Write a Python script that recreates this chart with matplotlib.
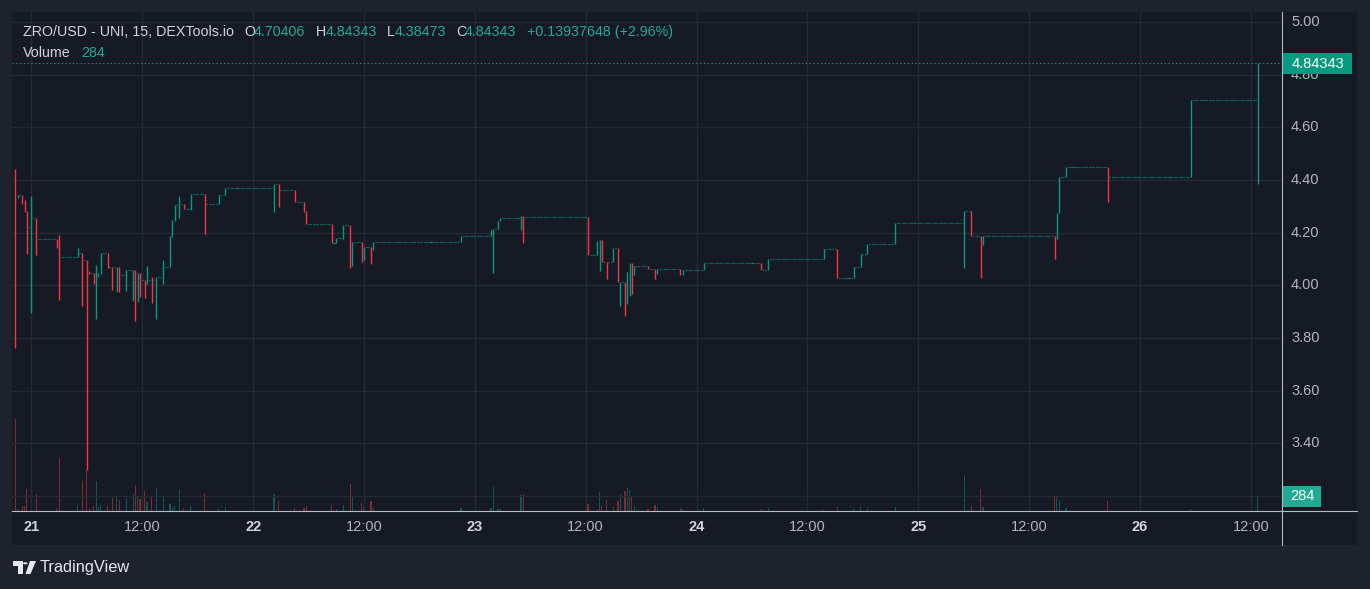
import matplotlib
matplotlib.use("Agg")
import matplotlib.pyplot as plt
from matplotlib.patches import Rectangle, Polygon, Circle
from matplotlib.lines import Line2D
from matplotlib.transforms import blended_transform_factory
import numpy as np

plt.rcParams['font.family'] = ['Liberation Sans', 'DejaVu Sans']

# ---------------- data (15-minute candles, ZRO/USD) ----------------
N_CANDLES = 539
FIRST_CANDLE_HOUR = -1.75      # hours relative to day 21 00:00
BAR_HOURS = 0.25

trade_idx = [0, 1, 3, 4, 5, 7, 9, 18, 19, 27, 29, 31, 32, 34, 35, 36, 37, 40, 42, 44,
             45, 48, 51, 52, 53, 54, 56, 57, 59, 61, 64, 67, 68, 69, 71, 73, 76, 82, 88, 91,
             112, 114, 121, 125, 126, 137, 139, 142, 145, 146, 150, 151, 154, 155, 193, 206, 207, 209, 210, 219,
             220, 248, 252, 253, 254, 256, 259, 261, 262, 264, 265, 266, 267, 268, 274, 277, 278, 288, 289, 298,
             323, 326, 350, 356, 363, 366, 369, 381, 411, 414, 418, 419, 450, 451, 452, 455, 473, 509, 538]
trade_open = [4.400, 4.330, 4.344, 4.325, 4.283, 4.220, 4.257, 4.176, 4.150, 4.108, 4.124, 4.098, 4.056, 4.048, 4.030, 4.030, 4.045, 4.124, 4.070, 4.069,
              4.070, 4.040, 4.060, 4.060, 4.000, 4.048, 4.022, 4.007, 4.022, 4.021, 4.033, 4.070, 4.189, 4.245, 4.306, 4.310, 4.290, 4.348, 4.310, 4.344,
              4.370, 4.386, 4.362, 4.316, 4.283, 4.233, 4.162, 4.180, 4.229, 4.100, 4.165, 4.100, 4.146, 4.135, 4.165, 4.187, 4.211, 4.214, 4.245, 4.256,
              4.264, 4.260, 4.115, 4.170, 4.173, 4.089, 4.088, 4.142, 4.014, 4.014, 3.950, 4.050, 4.086, 4.038, 4.075, 4.062, 4.050, 4.062, 4.045, 4.059,
              4.085, 4.059, 4.100, 4.138, 4.028, 4.070, 4.119, 4.157, 4.237, 4.282, 4.187, 4.152, 4.187, 4.178, 4.273, 4.411, 4.449, 4.411, 4.70406]
trade_high = [4.443, 4.344, 4.344, 4.325, 4.283, 4.340, 4.257, 4.177, 4.192, 4.143, 4.124, 4.098, 4.056, 4.048, 4.079, 4.048, 4.124, 4.124, 4.070, 4.070,
              4.070, 4.060, 4.060, 4.060, 4.048, 4.048, 4.022, 4.075, 4.030, 4.033, 4.098, 4.189, 4.250, 4.306, 4.340, 4.310, 4.348, 4.348, 4.344, 4.370,
              4.386, 4.386, 4.362, 4.316, 4.283, 4.233, 4.180, 4.229, 4.229, 4.165, 4.165, 4.146, 4.146, 4.165, 4.187, 4.211, 4.214, 4.245, 4.256, 4.264,
              4.264, 4.260, 4.170, 4.173, 4.173, 4.089, 4.142, 4.142, 4.014, 4.014, 4.052, 4.086, 4.086, 4.075, 4.075, 4.062, 4.062, 4.062, 4.059, 4.085,
              4.085, 4.100, 4.138, 4.138, 4.070, 4.119, 4.157, 4.237, 4.282, 4.282, 4.187, 4.187, 4.187, 4.275, 4.411, 4.449, 4.449, 4.704, 4.84343]
trade_low = [3.764, 4.330, 4.310, 4.280, 4.120, 3.897, 4.117, 4.143, 3.946, 4.108, 3.923, 3.300, 4.045, 4.007, 3.874, 4.030, 4.045, 4.067, 3.984, 3.976,
             3.976, 3.980, 3.942, 3.866, 3.938, 3.957, 3.953, 4.007, 3.935, 3.874, 4.007, 4.070, 4.185, 4.245, 4.257, 4.290, 4.287, 4.196, 4.310, 4.344,
             4.277, 4.296, 4.315, 4.280, 4.233, 4.160, 4.160, 4.178, 4.065, 4.072, 4.087, 4.095, 4.080, 4.133, 4.165, 4.187, 4.046, 4.214, 4.243, 4.209,
             4.160, 4.114, 4.115, 4.053, 4.087, 4.023, 4.087, 4.012, 3.920, 3.883, 3.928, 3.958, 3.966, 4.038, 4.061, 4.023, 4.043, 4.038, 4.038, 4.059,
             4.059, 4.059, 4.100, 4.028, 4.028, 4.068, 4.119, 4.157, 4.065, 4.186, 4.027, 4.152, 4.099, 4.178, 4.273, 4.411, 4.315, 4.410, 4.38473]
trade_close = [4.330, 4.344, 4.325, 4.283, 4.220, 4.257, 4.176, 4.150, 4.108, 4.124, 4.098, 4.056, 4.048, 4.030, 4.030, 4.045, 4.124, 4.070, 4.069, 4.070,
               4.040, 4.060, 4.060, 4.000, 4.048, 4.022, 4.007, 4.022, 4.021, 4.033, 4.070, 4.189, 4.245, 4.306, 4.310, 4.290, 4.348, 4.310, 4.344, 4.370,
               4.386, 4.362, 4.316, 4.283, 4.233, 4.162, 4.180, 4.229, 4.100, 4.165, 4.100, 4.146, 4.135, 4.165, 4.187, 4.211, 4.214, 4.245, 4.256, 4.264,
               4.260, 4.115, 4.170, 4.173, 4.089, 4.088, 4.142, 4.014, 4.014, 3.950, 4.050, 4.086, 4.038, 4.075, 4.062, 4.050, 4.062, 4.045, 4.059, 4.085,
               4.059, 4.100, 4.138, 4.028, 4.070, 4.119, 4.157, 4.237, 4.282, 4.187, 4.152, 4.187, 4.178, 4.273, 4.411, 4.449, 4.411, 4.70406, 4.84343]
trade_volume = [1736, 38, 95, 95, 410, 1262, 316, 50, 997, 114, 568, 770, 44, 95, 568, 76, 114, 95, 246, 265,
                208, 246, 322, 492, 284, 227, 379, 170, 265, 435, 284, 132, 57, 95, 398, 57, 95, 341, 57, 76,
                328, 189, 63, 66, 95, 114, 38, 114, 517, 271, 151, 76, 189, 63, 57, 63, 461, 44, 38, 297,
                328, 139, 20, 360, 101, 208, 76, 196, 328, 379, 435, 398, 290, 101, 32, 120, 76, 57, 38, 57,
                32, 57, 19, 76, 57, 76, 57, 76, 663, 95, 416, 76, 284, 265, 208, 57, 189, 38, 284]

price_ticks = [3.40, 3.60, 3.80, 4.00, 4.20, 4.40, 4.60, 4.80, 5.00]
grid_only_ticks = [3.20]
time_tick_hours = [0, 12, 24, 36, 48, 60, 72, 84, 96, 108, 120, 132]
time_tick_labels = ["21", "12:00", "22", "12:00", "23", "12:00", "24", "12:00", "25", "12:00", "26", "12:00"]

header_title = "ZRO/USD - UNI, 15, DEXTools.io"
header_change = "+0.13937648 (+2.96%)"

# ---------------- build candle series (price holds between trades) ----------------
o = np.empty(N_CANDLES); h = np.empty(N_CANDLES); l = np.empty(N_CANDLES)
c = np.empty(N_CANDLES); v = np.zeros(N_CANDLES)
last = trade_open[0]
lookup = {k: n for n, k in enumerate(trade_idx)}
for i in range(N_CANDLES):
    if i in lookup:
        n = lookup[i]
        o[i], h[i], l[i], c[i], v[i] = trade_open[n], trade_high[n], trade_low[n], trade_close[n], trade_volume[n]
        last = c[i]
    else:
        o[i] = h[i] = l[i] = c[i] = last
x = np.arange(N_CANDLES)

UP = '#089981'
DOWN = '#f23645'
BG_OUT = '#1e222d'
BG_PANEL = '#161a25'
GRID = '#262a35'
AXIS_LINE = '#b8bcc6'
TXT = '#d1d4dc'
TXT2 = '#b2b5be'

W, H = 1370, 589
fig = plt.figure(figsize=(W / 100, H / 100), dpi=100)
fig.patch.set_facecolor(BG_OUT)

def fx(px):
    return px / W

def fy(py):
    return 1 - py / H

fig.patches.append(Rectangle((fx(12), fy(545)), fx(1357) - fx(12), fy(12) - fy(545),
                             transform=fig.transFigure, facecolor=BG_PANEL, edgecolor='none', zorder=-10))

rect = [fx(12), fy(511), fx(1282) - fx(12), fy(12) - fy(511)]
axv = fig.add_axes(rect, zorder=1)
ax = fig.add_axes(rect, zorder=2, sharex=axv)
for a in (ax, axv):
    a.set_facecolor('none')
    for s in a.spines.values():
        s.set_visible(False)
    a.tick_params(left=False, bottom=False, labelleft=False, labelbottom=False)

x_left = (12 - 15.3) / 2.3094
x_right = (1282 - 15.3) / 2.3094
ax.set_xlim(x_left, x_right)
ax.set_ylim(5.0 - (511 - 22) / 263.4, 5.0 + (22 - 12) / 263.4)
axv.set_ylim(0, 284 * 499 / 15.0)

# grid
tick_idx = [(hh - FIRST_CANDLE_HOUR) / BAR_HOURS for hh in time_tick_hours]
for p in price_ticks + grid_only_ticks:
    ax.axhline(p, color=GRID, lw=1.0, zorder=0)
for t in tick_idx:
    ax.axvline(t, color=GRID, lw=1.0, zorder=0)

# volume
vcol = np.array([UP if c[i] >= o[i] else DOWN for i in range(N_CANDLES)])
mask = v > 0
axv.bar(x[mask], v[mask], width=0.5, color=vcol[mask], alpha=0.5, linewidth=0)

# candles
cols = np.array([UP if c[i] >= o[i] else DOWN for i in range(N_CANDLES)])
flat = (h - l) < 1e-9
ax.vlines(x[~flat], l[~flat], h[~flat], colors=cols[~flat], lw=1.0, zorder=3)
ax.hlines(c[flat], x[flat] - 0.22, x[flat] + 0.22, colors=cols[flat], lw=0.9, zorder=3)

# last price dotted line
last_price = c[-1]
ax.axhline(last_price, color=UP, lw=0.8, linestyle=(0, (1.2, 2.2)), zorder=2)

# figure level axis lines
fig.add_artist(Line2D([fx(1282), fx(1282)], [fy(12), fy(545)], color=AXIS_LINE, lw=0.8, transform=fig.transFigure))
fig.add_artist(Line2D([fx(12), fx(1357)], [fy(511), fy(511)], color=AXIS_LINE, lw=0.8, transform=fig.transFigure))

# price labels
tr = blended_transform_factory(fig.transFigure, ax.transData)
for p in price_ticks:
    ax.text(fx(1291), p, f"{p:.2f}", transform=tr, color=TXT2, fontsize=10.5,
            va='center', ha='left', clip_on=False, zorder=5)

# last price box
fig.patches.append(Rectangle((fx(1282.5), fy(73.6)), fx(1351.7) - fx(1282.5), fy(53.3) - fy(73.6),
                             transform=fig.transFigure, facecolor=UP, edgecolor='none', zorder=20))
fig.text(fx(1291.5), fy(63.6), f"{last_price:.5f}", color='white', fontsize=10.5,
         va='center', ha='left', zorder=21)

# volume box
fig.patches.append(Rectangle((fx(1282.5), fy(506.7)), fx(1321.4) - fx(1282.5), fy(486) - fy(506.7),
                             transform=fig.transFigure, facecolor='#22ab94', edgecolor='none', zorder=20))
fig.text(fx(1302), fy(496.5), f"{int(v[-1])}", color='white', fontsize=10.5,
         va='center', ha='center', zorder=21)

# time labels
trx = blended_transform_factory(ax.transData, fig.transFigure)
for t, lab in zip(tick_idx, time_tick_labels):
    bold = ":" not in lab
    ax.text(t, fy(527), lab, transform=trx, color=TXT if bold else TXT2, fontsize=10.5,
            fontweight='bold' if bold else 'normal', ha='center', va='center', clip_on=False)

# header
HDR = 10.3
y1, y2 = fy(32), fy(53)
TEAL_TXT = '#22ab94'
fig.text(fx(23), y1, header_title, color=TXT, fontsize=HDR, va='center')
for lab, val, xl, xv in [("O", trade_open[-1], 244, 254), ("H", trade_high[-1], 316, 326),
                         ("L", trade_low[-1], 387, 395), ("C", trade_close[-1], 456, 465)]:
    fig.text(fx(xl), y1, lab, color=TXT, fontsize=HDR, va='center')
    fig.text(fx(xv), y1, f"{val:.5f}", color=TEAL_TXT, fontsize=HDR, va='center')
fig.text(fx(527), y1, header_change, color=TEAL_TXT, fontsize=HDR, va='center')
fig.text(fx(23), y2, "Volume", color=TXT, fontsize=HDR, va='center')
fig.text(fx(81), y2, f"{int(v[-1])}", color=TEAL_TXT, fontsize=HDR, va='center')

# TradingView logo
LOGO = '#e6e8ee'
def P(px, py):
    return (fx(px), fy(py))
fig.patches.append(Polygon([P(13, 561), P(22.5, 561), P(22.5, 574), P(17.5, 574), P(17.5, 565.5), P(13, 565.5)],
                           closed=True, transform=fig.transFigure, facecolor=LOGO, edgecolor='none'))
fig.patches.append(Circle(P(25.3, 563.3), radius=2.3 / W, transform=fig.transFigure, facecolor=LOGO, edgecolor='none'))
fig.patches.append(Polygon([P(30, 561), P(36, 561), P(30.5, 574), P(25.5, 574)],
                           closed=True, transform=fig.transFigure, facecolor=LOGO, edgecolor='none'))
fig.text(fx(40), fy(567.5), "TradingView", color=LOGO, fontsize=11.8, va='center', ha='left')

fig.savefig("out.png", dpi=100, facecolor=fig.get_facecolor())
